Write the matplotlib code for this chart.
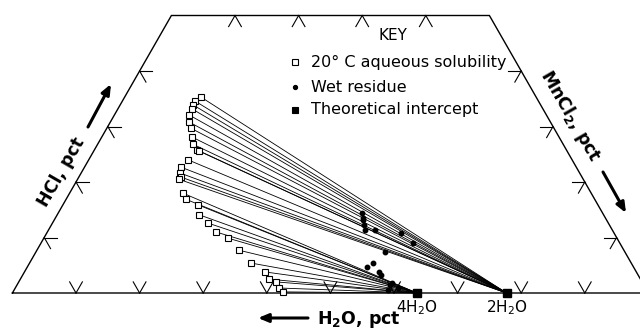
import numpy as np
import matplotlib
matplotlib.use("Agg")
import matplotlib.pyplot as plt

# ---- data (weight percent) ----
# 20 C aqueous solubility points
sol_hcl = [35.3, 34.6, 33.9, 33.2, 32.1, 30.8, 29.7, 28.1, 26.8, 25.8, 25.6, 24.0,
           22.7, 21.6, 20.9, 20.5, 18.0, 16.9, 15.9, 14.1, 12.6, 11.0, 9.9, 7.7,
           5.4, 3.8, 2.5, 2.0, 0.9, 0.2]
sol_mncl2 = [12.0, 11.4, 11.45, 11.6, 11.7, 12.4, 13.2, 14.2, 15.0, 16.1, 16.5, 15.6,
             15.1, 15.6, 16.0, 15.9, 17.8, 18.8, 21.2, 22.3, 24.45, 26.5, 28.9, 31.8,
             34.8, 37.8, 39.05, 40.4, 41.45, 42.4]
# solid phase each tie line points to
sol_phase = ["2H2O"] * 16 + ["4H2O"] * 14

# wet residues
wet_hcl = [14.4, 13.6, 13.15, 12.2, 11.35, 11.35, 10.8, 9.0, 7.4,
           5.4, 4.7, 3.8, 3.2, 1.8, 1.44, 0.54, 0.9]
wet_mncl2 = [47.8, 48.3, 48.6, 49.2, 49.7, 51.3, 55.7, 58.5, 54.9,
             54.0, 53.45, 55.7, 56.35, 58.8, 58.7, 58.8, 60.15]

# theoretical intercepts (MnCl2 hydrates, HCl = 0)
hyd_names = ["4H2O", "2H2O"]
hyd_mncl2 = [63.6, 77.7]
hyd_labels = ["4H$_2$O", "2H$_2$O"]

hcl_top = 50          # diagram truncated at 50 pct HCl
tick_vals_side = [10, 20, 30, 40]
tick_vals_base = [10, 20, 30, 40, 50, 60, 70, 80, 90]

# ---- geometry helpers ----
def tern(mn, hcl):
    mn = np.asarray(mn, float); hcl = np.asarray(hcl, float)
    return mn + hcl / 2.0, hcl

W, H = 640, 336
fig = plt.figure(figsize=(6.4, 3.36), dpi=100)
ax = fig.add_axes([0, 0, 1, 1])
sx, x0px, sy, y0px = 6.36, 12.4, 5.55, 293
ax.set_xlim(-x0px / sx, (W - x0px) / sx)
ax.set_ylim(-(H - y0px) / sy, y0px / sy)
ax.axis("off")

def fx(px):
    return px / W
def fy(py):
    return 1 - py / H

# outline
ox, oy = tern([0, 100, 100 - hcl_top, 0, 0], [0, 0, hcl_top, hcl_top, 0])
ax.plot(ox, oy, color="black", lw=1.0, solid_joinstyle="miter", zorder=2)

# ticks (two short grid-direction strokes at each tick)
t = 2.0
tk = dict(color="black", lw=0.8, zorder=2)
for m in tick_vals_base:
    for a, b in [((m, 0), (m, t)), ((m, 0), (m - t, t))]:
        x, y = tern([a[0], b[0]], [a[1], b[1]]); ax.plot(x, y, **tk)
for m in tick_vals_side:
    for a, b in [((m, hcl_top), (m, hcl_top - t)), ((m, hcl_top), (m + t, hcl_top - t))]:
        x, y = tern([a[0], b[0]], [a[1], b[1]]); ax.plot(x, y, **tk)
for h in tick_vals_side:
    for a, b in [((0, h), (t, h)), ((0, h), (t, h - t))]:
        x, y = tern([a[0], b[0]], [a[1], b[1]]); ax.plot(x, y, **tk)
    mr = 100 - h
    for a, b in [((mr, h), (mr - t, h)), ((mr, h), (mr, h - t))]:
        x, y = tern([a[0], b[0]], [a[1], b[1]]); ax.plot(x, y, **tk)

# tie lines
hyd_pos = dict(zip(hyd_names, hyd_mncl2))
for h, m, ph in zip(sol_hcl, sol_mncl2, sol_phase):
    x, y = tern([m, hyd_pos[ph]], [h, 0])
    ax.plot(x, y, color="black", lw=0.6, zorder=3)

# markers
x, y = tern(sol_mncl2, sol_hcl)
ax.plot(x, y, ls="none", marker="s", ms=4.5, mfc="white", mec="black", mew=0.8, zorder=5)
x, y = tern(wet_mncl2, wet_hcl)
ax.plot(x, y, ls="none", marker="o", ms=3.2, color="black", zorder=5)
x, y = tern(hyd_mncl2, [0, 0])
ax.plot(x, y, ls="none", marker="s", ms=6, color="black", zorder=6)
for xx, lab in zip(x, hyd_labels):
    ax.text(xx, -2.7, lab, ha="center", va="center", fontsize=11)

# key
ax.text(fx(393), fy(35), "KEY", transform=ax.transAxes, ha="center", va="center", fontsize=11)
rows = [("s", "white", 4, "20° C aqueous solubility", 62),
        ("o", "black", 3, "Wet residue", 87),
        ("s", "black", 5, "Theoretical intercept", 110)]
for mk, fc, ms, txt, py in rows:
    ax.plot([fx(295)], [fy(py)], transform=ax.transAxes, marker=mk, ms=ms,
            mfc=fc, mec="black", mew=0.8, ls="none")
    ax.text(fx(311), fy(py), txt, transform=ax.transAxes, ha="left", va="center", fontsize=11.5)

# axis labels and arrows
lab = dict(transform=ax.transAxes, ha="center", va="center", fontsize=12.5, fontweight="bold")
ax.text(fx(61), fy(172), "HCl, pct", rotation=60, **lab)
ax.text(fx(570), fy(116), "MnCl$_\\mathbf{2}$, pct", rotation=-60, **lab)
ax.text(fx(359), fy(320), "H$_\\mathbf{2}$O, pct", rotation=0, **lab)

arr = dict(arrowstyle="-|>,head_length=0.6,head_width=0.25", color="black", lw=2.2,
           shrinkA=0, shrinkB=0)
ax.annotate("", xy=(fx(111), fy(84)), xytext=(fx(88), fy(127)),
            xycoords="axes fraction", textcoords="axes fraction", arrowprops=arr)
ax.annotate("", xy=(fx(626), fy(213)), xytext=(fx(603), fy(172)),
            xycoords="axes fraction", textcoords="axes fraction", arrowprops=arr)
ax.annotate("", xy=(fx(258), fy(318)), xytext=(fx(308), fy(318)),
            xycoords="axes fraction", textcoords="axes fraction", arrowprops=arr)

fig.savefig("out.png", dpi=100)
